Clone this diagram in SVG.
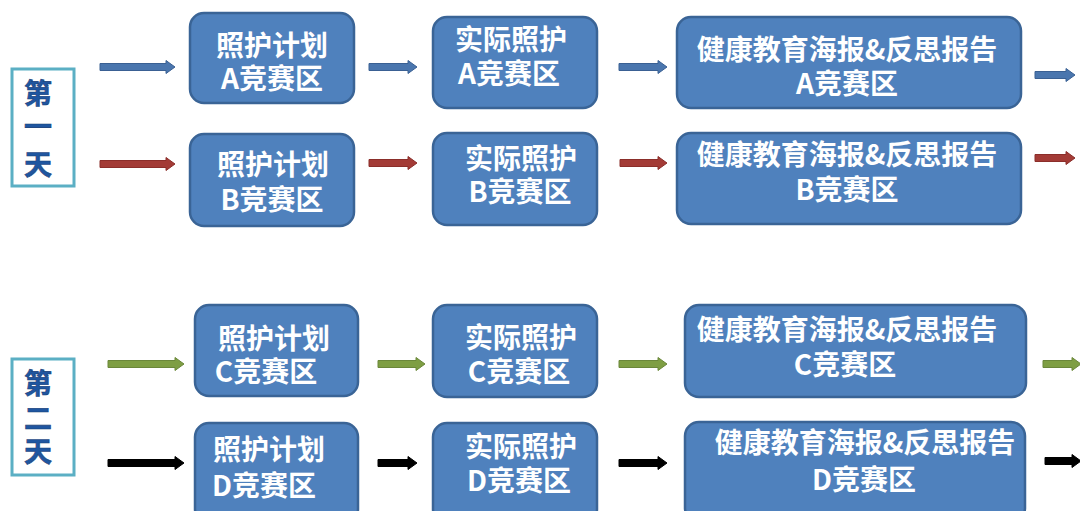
<svg xmlns="http://www.w3.org/2000/svg" width="1080" height="511" viewBox="0 0 1080 511">
<style>
.box{fill:#4F81BD;stroke:#3A6496;stroke-width:2.5}
.day{fill:#FFFFFF;stroke:#5BAFC4;stroke-width:3}
.t{font-family:"Noto Sans CJK SC","Liberation Sans",sans-serif;font-weight:bold;font-size:28px;fill:#FFFFFF;text-anchor:middle}
.d{font-family:"Noto Sans CJK SC",sans-serif;font-weight:bold;font-size:28px;fill:#1F56A0;stroke:#163E78;stroke-width:0.6;text-anchor:middle}
.ab{fill:#4A76AE;stroke:#3A6093;stroke-width:1}
.ar{fill:#A33B36;stroke:#8B2E2A;stroke-width:1}
.ag{fill:#7E9E43;stroke:#6A873A;stroke-width:1}
.ak{fill:#000000;stroke:#000000;stroke-width:1}
</style>
<rect width="1080" height="511" fill="#FFFFFF"/>
<g id="day1"><rect class="day" x="12" y="69" width="62" height="117"/>
<text class="d" x="38" y="104">第</text><text class="d" x="38" y="137">一</text><text class="d" x="38" y="175">天</text></g>
<g id="day2"><rect class="day" x="12" y="359" width="62" height="116"/>
<text class="d" x="38" y="394">第</text><text class="d" x="38" y="429">二</text><text class="d" x="38" y="462">天</text></g>
<g id="a1"><rect class="box" x="190" y="13" width="164" height="90" rx="14"/><text class="t" x="272" y="56">照护计划</text><text class="t" x="272" y="89">A竞赛区</text></g>
<g id="b1"><rect class="box" x="190" y="134" width="164" height="92" rx="14"/><text class="t" x="273" y="175">照护计划</text><text class="t" x="272" y="210">B竞赛区</text></g>
<g id="a2"><rect class="box" x="433" y="17" width="164" height="91" rx="14"/><text class="t" x="511" y="50">实际照护</text><text class="t" x="509" y="84">A竞赛区</text></g>
<g id="b2"><rect class="box" x="433" y="133" width="164" height="92" rx="14"/><text class="t" x="521" y="169">实际照护</text><text class="t" x="520" y="202">B竞赛区</text></g>
<g id="a3"><rect class="box" x="677" y="17" width="344" height="91" rx="14"/><text class="t" x="847" y="60">健康教育海报&amp;反思报告</text><text class="t" x="847" y="94">A竞赛区</text></g>
<g id="b3"><rect class="box" x="677" y="133" width="344" height="91" rx="14"/><text class="t" x="847" y="165">健康教育海报&amp;反思报告</text><text class="t" x="847" y="200">B竞赛区</text></g>
<g id="c1"><rect class="box" x="195" y="305" width="163" height="91" rx="14"/><text class="t" x="274" y="349">照护计划</text><text class="t" x="266" y="382">C竞赛区</text></g>
<g id="d1"><rect class="box" x="195" y="423" width="163" height="100" rx="14"/><text class="t" x="269" y="460">照护计划</text><text class="t" x="264" y="496">D竞赛区</text></g>
<g id="c2"><rect class="box" x="433" y="305" width="164" height="92" rx="14"/><text class="t" x="521" y="348">实际照护</text><text class="t" x="519" y="382">C竞赛区</text></g>
<g id="d2"><rect class="box" x="433" y="423" width="164" height="100" rx="14"/><text class="t" x="521" y="457">实际照护</text><text class="t" x="519" y="491">D竞赛区</text></g>
<g id="c3"><rect class="box" x="685" y="305" width="341" height="92" rx="14"/><text class="t" x="847" y="340">健康教育海报&amp;反思报告</text><text class="t" x="845" y="375">C竞赛区</text></g>
<g id="d3"><rect class="box" x="685" y="422" width="340" height="100" rx="14"/><text class="t" x="865" y="453">健康教育海报&amp;反思报告</text><text class="t" x="864" y="490">D竞赛区</text></g>
<g id="connectors">
<path class="ab" d="M100,63.5H166V60.5L175,67L166,73.5V70.5H100Z"/>
<path class="ab" d="M369,63.5H408V60.5L417,67L408,73.5V70.5H369Z"/>
<path class="ab" d="M619,63.5H658V60.5L667,67L658,73.5V70.5H619Z"/>
<path class="ab" d="M1035,71.5H1066V68.5L1075,75L1066,81.5V78.5H1035Z"/>
<path class="ar" d="M100,160.5H166V157.5L175,164L166,170.5V167.5H100Z"/>
<path class="ar" d="M369,159.5H408V156.5L417,163L408,169.5V166.5H369Z"/>
<path class="ar" d="M620,159.5H658V156.5L667,163L658,169.5V166.5H620Z"/>
<path class="ar" d="M1035,154.5H1066V151.5L1075,158L1066,164.5V161.5H1035Z"/>
<path class="ag" d="M108,360.5H175V357.5L184,364L175,370.5V367.5H108Z"/>
<path class="ag" d="M378,360.5H416V357.5L425,364L416,370.5V367.5H378Z"/>
<path class="ag" d="M619,360.5H658V357.5L667,364L658,370.5V367.5H619Z"/>
<path class="ag" d="M1043,360.5H1072V357.5L1081,364L1072,370.5V367.5H1043Z"/>
<path class="ak" d="M108,459.5H175V456.5L184,463L175,469.5V466.5H108Z"/>
<path class="ak" d="M378,459.5H408V456.5L417,463L408,469.5V466.5H378Z"/>
<path class="ak" d="M619,459.5H658V456.5L667,463L658,469.5V466.5H619Z"/>
<path class="ak" d="M1045,457.5H1072V454.5L1081,461L1072,467.5V464.5H1045Z"/>
</g>
</svg>
